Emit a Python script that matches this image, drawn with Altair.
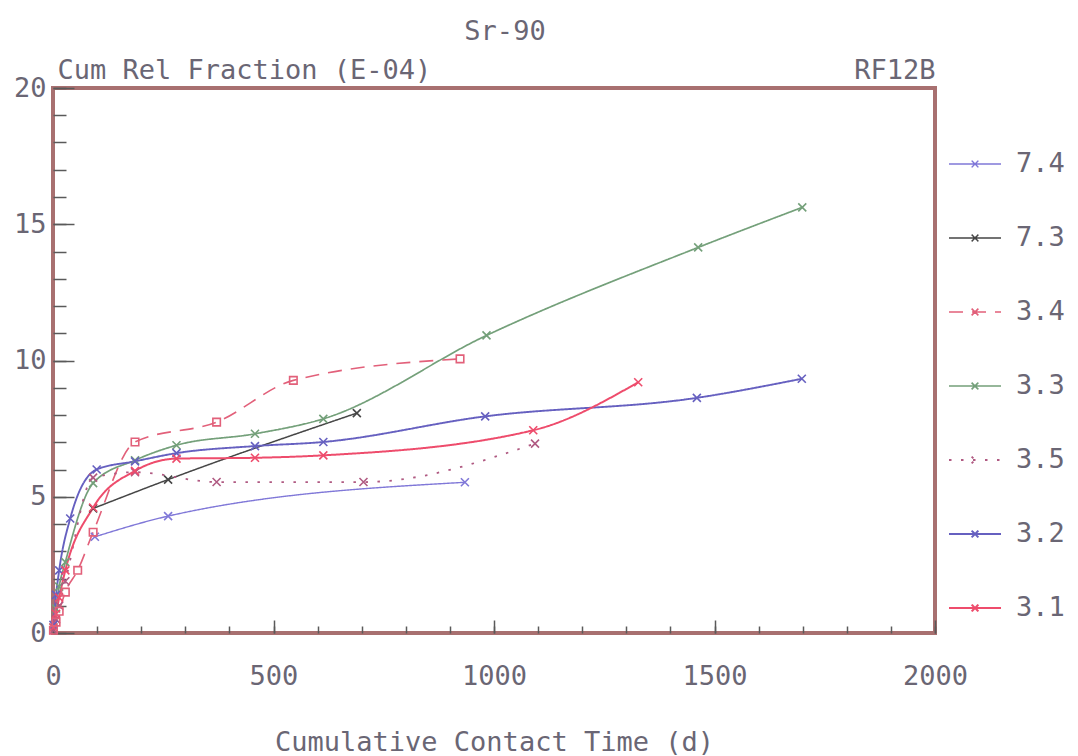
import altair as alt
import pandas as pd

# ---- data ----
series_order = ["7.4", "7.3", "3.4", "3.3", "3.5", "3.2", "3.1"]

t_74 = [95, 261, 934]
f_74 = [3.53, 4.29, 5.53]

t_73 = [91, 261, 689]
f_73 = [4.57, 5.63, 8.07]

t_34 = [1, 7, 14, 28, 56, 91, 186, 371, 545, 923]
f_34 = [0.1, 0.4, 0.8, 1.5, 2.3, 3.7, 7.01, 7.74, 9.27, 10.06]

t_33 = [1, 7, 14, 28, 91, 186, 280, 458, 613, 983, 1463, 1699]
f_33 = [0.2, 0.9, 1.7, 2.6, 5.5, 6.34, 6.89, 7.31, 7.86, 10.92, 14.15, 15.62]

t_35 = [1, 7, 14, 28, 91, 186, 371, 704, 1093]
f_35 = [0.1, 0.5, 1.0, 1.9, 5.7, 5.9, 5.54, 5.54, 6.95]

t_32 = [1, 7, 14, 39, 99, 186, 280, 458, 613, 980, 1460, 1698]
f_32 = [0.3, 1.4, 2.3, 4.2, 6.0, 6.3, 6.6, 6.86, 7.01, 7.95, 8.63, 9.33]

t_31 = [1, 7, 14, 28, 91, 186, 280, 458, 613, 1089, 1327]
f_31 = [0.2, 0.7, 1.3, 2.3, 4.6, 5.95, 6.4, 6.43, 6.52, 7.44, 9.2]

x_major = [0, 500, 1000, 1500, 2000]
x_minor = list(range(0, 2001, 100))
y_major = [0, 5, 10, 15, 20]
y_minor = list(range(0, 21, 1))

# ---- styles ----
colors = ["#8078d8", "#454545", "#e2607a", "#74a07a", "#b05a82", "#6660c0", "#ee4c6c"]
dashes = [[1, 0], [1, 0], [14, 9], [1, 0], [2.5, 9.5], [1, 0], [1, 0]]
widths = [1.4, 2.0, 1.7, 1.3, 2.0, 1.5, 2.1]
xpath = "M-1,-1L1,1M-1,1L1,-1"
legend_path = "M-1,0L1,0M-0.13,-0.13L0.13,0.13M-0.13,0.13L0.13,-0.13"

FONT = "DejaVu Sans Mono"
TXT = "#6a6674"
FRAME = "#a87070"
TICK = "#5a5a5a"
W, H = 882, 545

rows = []
for name, ts, fs in [("7.4", t_74, f_74), ("7.3", t_73, f_73), ("3.4", t_34, f_34),
                     ("3.3", t_33, f_33), ("3.5", t_35, f_35), ("3.2", t_32, f_32),
                     ("3.1", t_31, f_31)]:
    for t, f in zip(ts, fs):
        rows.append({"series": name, "t": t, "f": f})
df = pd.DataFrame(rows)

xs = alt.Scale(domain=[0, 2000], nice=False, zero=False)
ys = alt.Scale(domain=[0, 20], nice=False, zero=False)
cscale = alt.Scale(domain=series_order, range=colors)

leg = dict(title=None, symbolType=legend_path, direction="vertical")

lines = alt.Chart(df).mark_line(interpolate="monotone").encode(
    x=alt.X("t:Q", scale=xs, axis=alt.Axis(
        orient="bottom", values=x_major, format="d", ticks=False, domain=False, grid=False,
        labelFlush=False, labelPadding=30, labelFont=FONT, labelFontSize=27, labelColor=TXT,
        title="Cumulative Contact Time (d)", titleFont=FONT, titleFontSize=27,
        titleFontWeight="normal", titleColor=TXT, titlePadding=40)),
    y=alt.Y("f:Q", scale=ys, axis=alt.Axis(
        orient="left", values=y_major, format="d", ticks=False, domain=False, grid=False,
        labelFlush=False, labelPadding=7, labelFont=FONT, labelFontSize=27, labelColor=TXT,
        title="Cum Rel Fraction (E-04)", titleFont=FONT, titleFontSize=27,
        titleFontWeight="normal", titleColor=TXT, titleAngle=0, titleAlign="left",
        titleBaseline="alphabetic", titleX=4, titleY=-10)),
    color=alt.Color("series:N", sort=series_order, scale=cscale, legend=alt.Legend(**leg)),
    strokeDash=alt.StrokeDash("series:N", sort=series_order,
                              scale=alt.Scale(domain=series_order, range=dashes),
                              legend=alt.Legend(**leg)),
    strokeWidth=alt.StrokeWidth("series:N",
                                scale=alt.Scale(domain=series_order, range=widths),
                                legend=None),
)

crosses = alt.Chart(df).transform_filter(
    alt.datum.series != "3.4"
).mark_point(shape=xpath, filled=False, size=64, strokeWidth=1.6, opacity=1).encode(
    x=alt.X("t:Q", scale=xs, axis=alt.Axis(
        orient="bottom", values=x_major, labels=False, domain=False, grid=False,
        tickSize=13, offset=-13, tickColor=TICK, tickWidth=1.5, title=None)),
    y=alt.Y("f:Q", scale=ys, axis=alt.Axis(
        orient="left", values=y_major, labels=False, domain=False, grid=False,
        tickSize=21, offset=-21, tickColor=TICK, tickWidth=1.5,
        title="RF12B", titleFont=FONT, titleFontSize=27, titleFontWeight="normal",
        titleColor=TXT, titleAngle=0, titleAlign="right", titleBaseline="alphabetic",
        titleX=W - 21, titleY=-10)),
    color=alt.Color("series:N", scale=cscale, legend=None),
)

squares = alt.Chart(df).transform_filter(
    alt.datum.series == "3.4"
).mark_point(shape="square", filled=False, size=56, strokeWidth=1.6, opacity=1).encode(
    x=alt.X("t:Q", scale=xs, axis=alt.Axis(
        orient="bottom", values=x_minor, labels=False, domain=False, grid=False,
        tickSize=7, offset=-7, tickColor=TICK, tickWidth=1.5, title=None)),
    y=alt.Y("f:Q", scale=ys, axis=alt.Axis(
        orient="left", values=y_minor, labels=False, domain=False, grid=False,
        tickSize=13, offset=-13, tickColor=TICK, tickWidth=1.5, title=None)),
    color=alt.Color("series:N", scale=cscale, legend=None),
)

chart = alt.layer(lines, crosses, squares).resolve_axis(
    x="independent", y="independent"
).properties(
    width=W, height=H,
    title=alt.Title("Sr-90", font=FONT, fontSize=27, fontWeight="normal", color=TXT,
                    anchor="middle", offset=10, dx=11),
    autosize=alt.AutoSizeParams(type="none"),
    padding={"left": 53, "top": 88, "right": 143, "bottom": 123},
    background="white",
).configure_view(
    stroke=FRAME, strokeWidth=4
).configure_legend(
    orient="none", legendX=895, legendY=49, padding=0, rowPadding=34,
    symbolSize=2704, symbolStrokeWidth=1.6, labelFont=FONT, labelFontSize=27,
    labelColor=TXT, labelOffset=14
)

chart.save("out.html", embed_options={"renderer": "svg", "actions": False})
